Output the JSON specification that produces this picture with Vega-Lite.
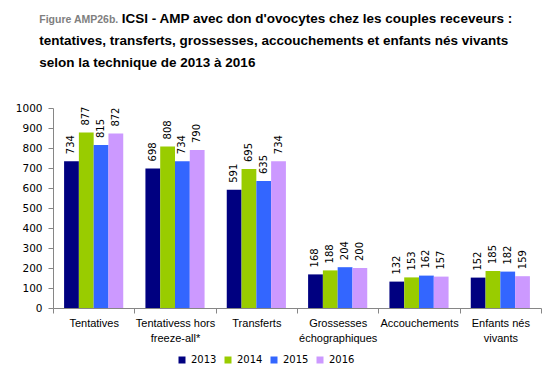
{
  "$schema": "https://vega.github.io/schema/vega-lite/v6.json",
  "width": 488,
  "height": 200,
  "padding": {"left": 15, "top": 12, "right": 10, "bottom": 5},
  "background": "white",
  "title": {
    "text": "Figure AMP26b.",
    "subtitle": ["\u200b\u00a0\u00a0\u00a0\u00a0\u00a0\u00a0\u00a0\u00a0\u00a0\u00a0\u00a0\u00a0\u00a0\u00a0\u00a0\u00a0\u00a0\u00a0\u00a0\u00a0\u00a0\u00a0ICSI - AMP avec don d'ovocytes chez les couples receveurs :", "tentatives, transferts, grossesses, accouchements et enfants nés vivants", "selon la technique de 2013 à 2016"],
    "anchor": "start",
    "frame": "bounds",
    "dx": 24,
    "font": "Liberation Sans",
    "fontSize": 10.5,
    "fontWeight": "bold",
    "color": "#7f7f7f",
    "subtitleFont": "Liberation Sans",
    "subtitleFontSize": 13.5,
    "subtitleFontWeight": "bold",
    "subtitleColor": "#000000",
    "subtitleLineHeight": 22,
    "subtitlePadding": -13,
    "offset": 31
  },
  "data": {
    "values": [
      {"categorie": "Tentatives", "annee": "2013", "valeur": 734},
      {"categorie": "Tentatives", "annee": "2014", "valeur": 877},
      {"categorie": "Tentatives", "annee": "2015", "valeur": 815},
      {"categorie": "Tentatives", "annee": "2016", "valeur": 872},
      {"categorie": "Tentativess hors freeze-all*", "annee": "2013", "valeur": 698},
      {"categorie": "Tentativess hors freeze-all*", "annee": "2014", "valeur": 808},
      {"categorie": "Tentativess hors freeze-all*", "annee": "2015", "valeur": 734},
      {"categorie": "Tentativess hors freeze-all*", "annee": "2016", "valeur": 790},
      {"categorie": "Transferts", "annee": "2013", "valeur": 591},
      {"categorie": "Transferts", "annee": "2014", "valeur": 695},
      {"categorie": "Transferts", "annee": "2015", "valeur": 635},
      {"categorie": "Transferts", "annee": "2016", "valeur": 734},
      {"categorie": "Grossesses échographiques", "annee": "2013", "valeur": 168},
      {"categorie": "Grossesses échographiques", "annee": "2014", "valeur": 188},
      {"categorie": "Grossesses échographiques", "annee": "2015", "valeur": 204},
      {"categorie": "Grossesses échographiques", "annee": "2016", "valeur": 200},
      {"categorie": "Accouchements", "annee": "2013", "valeur": 132},
      {"categorie": "Accouchements", "annee": "2014", "valeur": 153},
      {"categorie": "Accouchements", "annee": "2015", "valeur": 162},
      {"categorie": "Accouchements", "annee": "2016", "valeur": 157},
      {"categorie": "Enfants nés vivants", "annee": "2013", "valeur": 152},
      {"categorie": "Enfants nés vivants", "annee": "2014", "valeur": 185},
      {"categorie": "Enfants nés vivants", "annee": "2015", "valeur": 182},
      {"categorie": "Enfants nés vivants", "annee": "2016", "valeur": 159}
    ]
  },
  "encoding": {
    "x": {
      "field": "categorie",
      "type": "nominal",
      "sort": null,
      "scale": {"paddingInner": 0, "paddingOuter": 0},
      "axis": {
        "title": null,
        "labelAngle": 0,
        "tickBand": "extent",
        "domainColor": "#868686",
        "tickColor": "#868686",
        "tickSize": 5,
        "labelFont": "Liberation Sans",
        "labelFontSize": 11,
        "labelColor": "#000000",
        "labelPadding": 4,
        "labelLineHeight": 15,
        "labelExpr": "datum.label == 'Tentativess hors freeze-all*' ? ['Tentativess hors', 'freeze-all*'] : datum.label == 'Grossesses échographiques' ? ['Grossesses', 'échographiques'] : datum.label == 'Enfants nés vivants' ? ['Enfants nés', 'vivants'] : datum.label"
      }
    },
    "xOffset": {
      "field": "annee",
      "type": "nominal",
      "scale": {"paddingInner": 0, "paddingOuter": 0.75}
    },
    "y": {
      "field": "valeur",
      "type": "quantitative",
      "scale": {"domain": [0, 1000]},
      "axis": {
        "title": null,
        "grid": false,
        "format": "d",
        "values": [0, 100, 200, 300, 400, 500, 600, 700, 800, 900, 1000],
        "domainColor": "#868686",
        "tickColor": "#868686",
        "tickSize": 5,
        "labelPadding": 6,
        "labelFont": "DejaVu Sans",
        "labelFontSize": 10.5,
        "labelColor": "#000000"
      }
    }
  },
  "layer": [
    {
      "mark": {"type": "bar"},
      "encoding": {
        "color": {
          "field": "annee",
          "type": "nominal",
          "scale": {"domain": ["2013", "2014", "2015", "2016"], "range": ["#000080", "#99cc00", "#3366ff", "#cc99ff"]},
          "legend": {
            "title": null,
            "orient": "none",
            "legendX": 124,
            "legendY": 247,
            "direction": "horizontal",
            "symbolType": "square",
            "symbolSize": 49,
            "symbolStrokeWidth": 0,
            "labelFont": "DejaVu Sans",
            "labelFontSize": 10,
            "labelColor": "#000000",
            "labelOffset": 4,
            "columnPadding": 6
          }
        }
      }
    },
    {
      "mark": {"type": "text", "angle": -90, "align": "left", "baseline": "middle", "dx": 7, "font": "DejaVu Sans", "fontSize": 10, "color": "#000000"},
      "encoding": {
        "text": {"field": "valeur", "type": "quantitative"}
      }
    }
  ],
  "config": {"view": {"stroke": null}}
}
